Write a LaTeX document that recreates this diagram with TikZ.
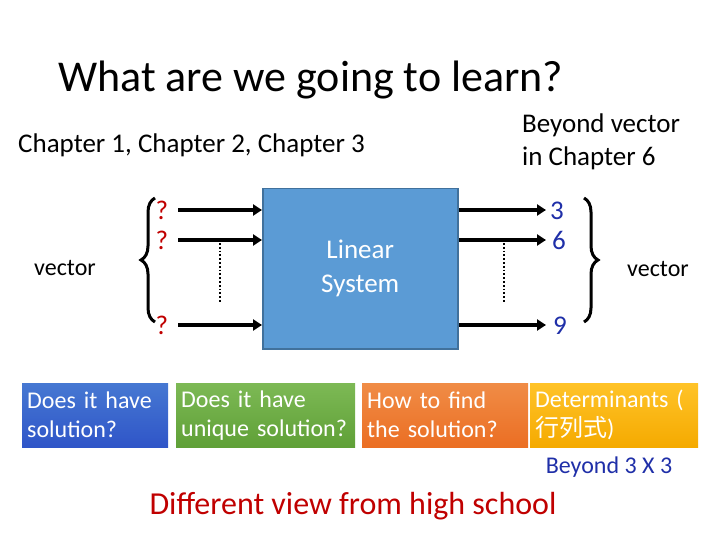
\documentclass[tikz,border=0pt]{standalone}
\usepackage{fontspec}
\setmainfont{Carlito}
\newfontfamily\cjk{Noto Sans CJK SC}
\usetikzlibrary{decorations.pathreplacing,arrows.meta}
\definecolor{qred}{HTML}{C00000}
\definecolor{qblue}{HTML}{1F2FA8}
\definecolor{lsblue}{HTML}{5B9BD5}
\definecolor{lsedge}{HTML}{41719C}
\begin{document}
\begin{tikzpicture}[x=1pt,y=-1pt,
  arr/.style={line width=3.5pt,-{Triangle[length=9pt,width=11pt]}},
  brace/.style={decorate,decoration={brace,amplitude=14pt},line width=3pt},
  txt/.style={inner sep=0pt,font=\fontsize{27}{32}\selectfont},
  qbox/.style={minimum height=64pt,inner sep=5pt,anchor=north west,align=left,text=white,font=\fontsize{24}{29}\selectfont,text width=#1}]
\useasboundingbox (0,0) rectangle (720,540);
\node[inner sep=0pt,anchor=west,font=\fontsize{44}{48}\selectfont] (title) at (58,80) {What are we going to learn?};
\node[txt,anchor=west] (ch) at (18,145) {Chapter 1, Chapter 2, Chapter 3};
\node[txt,anchor=west,align=left,font=\fontsize{27}{33}\selectfont] (bey) at (522,142) {Beyond vector\\in Chapter 6};
\node[draw=lsedge,fill=lsblue,line width=1.5pt,minimum width=195pt,minimum height=160pt,anchor=north west,inner sep=0pt] (ls) at (262,188) {};
\node[txt,text=white,align=center,font=\fontsize{27}{34}\selectfont] (lst) at (ls.center) {Linear\\System};
\foreach \y/\n in {210/a,240/b,325/c}{
  \node[txt,text=qred] (q\n) at (162,\y) {?};
  \coordinate (li\n) at (178,\y);
  \coordinate (le\n) at (262,\y);
  \draw[arr] (li\n) -- (le\n);
  \coordinate (ri\n) at (459,\y);
  \coordinate (re\n) at (546,\y);
  \draw[arr] (ri\n) -- (re\n);
}
\node[txt,text=qblue] (o3) at (557,211) {3};
\node[txt,text=qblue] (o6) at (559,240) {6};
\node[txt,text=qblue] (o9) at (560,326) {9};
\coordinate (d1) at (220,243); \coordinate (d2) at (220,303);
\draw[line width=1.8pt,dotted] (d1) -- (d2);
\coordinate (d3) at (504,243); \coordinate (d4) at (504,303);
\draw[line width=1.8pt,dotted] (d3) -- (d4);
\coordinate (b1) at (155,322); \coordinate (b2) at (155,198);
\draw[brace] (b1) -- (b2);
\coordinate (b3) at (584,198); \coordinate (b4) at (584,322);
\draw[brace] (b3) -- (b4);
\node[txt,font=\fontsize{24}{28}\selectfont] (vl) at (65,268) {vector};
\node[txt,font=\fontsize{24}{28}\selectfont] (vr) at (658,269) {vector};
\node[qbox=136pt,bottom color={rgb,255:red,47;green,85;blue,200},top color={rgb,255:red,70;green,120;blue,210}] (q1) at (22,383) {Does it have\\solution?};
\node[qbox=169pt,top color={rgb,255:red,125;green,185;blue,85},bottom color={rgb,255:red,95;green,160;blue,55}] (q2) at (176,383) {Does it have\\unique solution?};
\node[qbox=156pt,top color={rgb,255:red,240;green,140;blue,70},bottom color={rgb,255:red,235;green,110;blue,35}] (q3) at (362,383) {How to find\\the solution?};
\node[qbox=158pt,top color={rgb,255:red,255;green,195;blue,40},bottom color={rgb,255:red,245;green,170;blue,0}] (q4) at (530,383) {Determinants (\\{\cjk 行列式})};
\node[txt,text=qblue,font=\fontsize{24}{28}\selectfont] (b33) at (609,467) {Beyond 3 X 3};
\node[txt,text=qred,font=\fontsize{32}{36}\selectfont] (diff) at (353,506) {Different view from high school};
\end{tikzpicture}
\end{document}
